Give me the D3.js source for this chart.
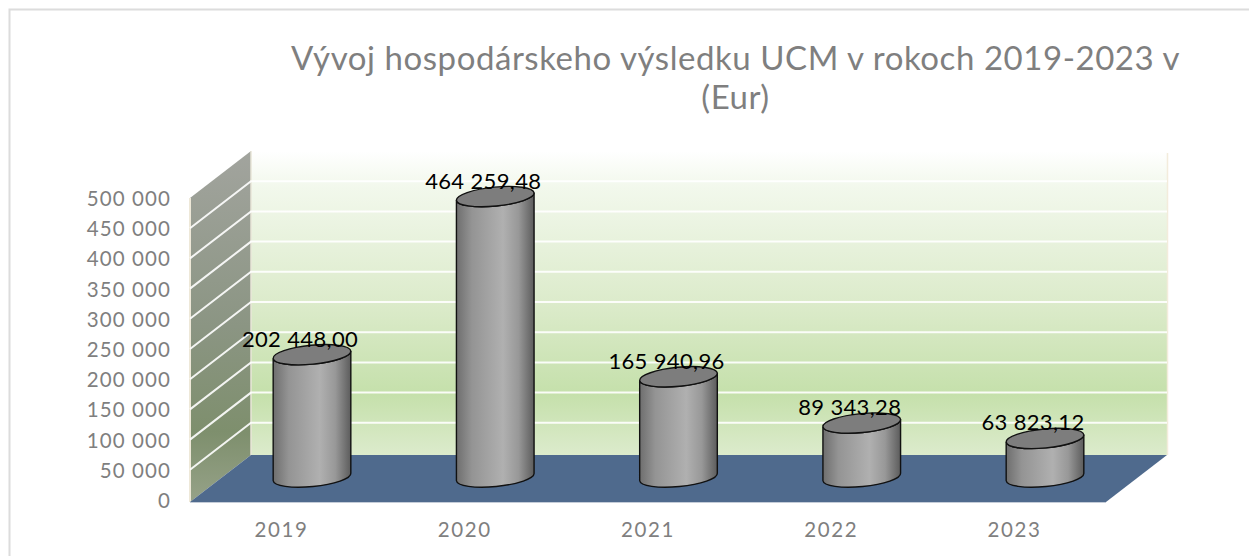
<!DOCTYPE html>
<html><head><meta charset="utf-8">
<script src="https://cdn.jsdelivr.net/npm/d3@7"></script>
<style>html,body{margin:0;padding:0;background:#fff}svg{display:block}text{font-family:Lato,"Open Sans",sans-serif}</style>
</head><body><div id="c"></div>
<script>
const categories=["2019","2020","2021","2022","2023"];
const values=[202448.00,464259.48,165940.96,89343.28,63823.12];
const labels=["202 448,00","464 259,48","165 940,96","89 343,28","63 823,12"];
const ticks=[0,50000,100000,150000,200000,250000,300000,350000,400000,450000,500000];
const titleLines=["Vývoj hospodárskeho výsledku UCM v rokoch 2019-2023 v","(Eur)"];

const W=1249,H=556;
const svg=d3.select("#c").append("svg").attr("width",W).attr("height",H);
const defs=svg.append("defs");
function grad(id,stops,x2,y2){
  const g=defs.append("linearGradient").attr("id",id).attr("x1",0).attr("y1",0).attr("x2",x2).attr("y2",y2);
  stops.forEach(s=>g.append("stop").attr("offset",s[0]).attr("stop-color",s[1]));
}
grad("wall",[[0,"#ffffff"],[0.12,"#f2f8ec"],[0.5,"#dcebcb"],[0.8,"#c5e0ab"],[1,"#dcebcc"]],0,1);
grad("side",[[0,"#a2a49e"],[0.5,"#8b9583"],[0.8,"#7e8f6d"],[1,"#96a288"]],0,1);
grad("cyl",[[0,"#6e6e6e"],[0.2,"#949494"],[0.6,"#b0b0b0"],[0.8,"#989898"],[1,"#5c5c5c"]],1,0);

// geometry
const y0=500, yTop=198, dx=61, dy=-47;
const x0=190, xEnd=1106;
const y=d3.scaleLinear().domain([0,500000]).range([y0,yTop]);
const x=d3.scalePoint().domain(categories).range([281,1014]);

// frame
svg.append("rect").attr("x",9.5).attr("y",9.5).attr("width",1300).attr("height",600)
  .attr("fill","#fff").attr("stroke","#dcdcdc").attr("stroke-width",2);

// title
svg.append("g").selectAll("text").data(titleLines).join("text")
  .attr("x",735.5).attr("y",(d,i)=>70+i*39).attr("text-anchor","middle")
  .attr("font-size",33).attr("letter-spacing",0.55).attr("fill","#7f7f7f").text(d=>d);

// walls
const baseY=y(0)+2;
const line=d3.line();
svg.append("rect").attr("x",x0+dx).attr("y",yTop+dy).attr("width",xEnd-x0).attr("height",baseY+dy-(yTop+dy))
  .attr("fill","url(#wall)");
svg.append("line").attr("x1",xEnd+dx+.5).attr("x2",xEnd+dx+.5).attr("y1",yTop+dy+2).attr("y2",baseY+dy)
  .attr("stroke","#f3ecdc").attr("stroke-width",1.5);
svg.append("path").attr("d",line([[x0,yTop],[x0+dx,yTop+dy],[x0+dx,baseY+dy],[x0,baseY]])+"Z")
  .attr("fill","url(#side)");
svg.append("line").attr("x1",x0).attr("x2",x0).attr("y1",yTop).attr("y2",baseY)
  .attr("stroke","#eee8d8").attr("stroke-width",2);
svg.append("line").attr("x1",x0+dx).attr("x2",x0+dx).attr("y1",yTop+dy).attr("y2",baseY+dy)
  .attr("stroke","#e8e6d8").attr("stroke-width",1.5);

// gridlines
const g=svg.append("g");
ticks.slice(1,-1).forEach(t=>{
  g.append("path").attr("d",line([[x0,y(t)],[x0+dx,y(t)+dy],[xEnd+dx,y(t)+dy]]))
   .attr("fill","none").attr("stroke","#fff").attr("stroke-width",2).attr("opacity",.9);
});

// floor
svg.append("path").attr("d",line([[x0,baseY],[x0+dx,baseY+dy],[xEnd+dx,baseY+dy],[xEnd,baseY]])+"Z")
  .attr("fill","#4f6a8d");
svg.append("line").attr("x1",x0).attr("x2",xEnd).attr("y1",baseY+.5).attr("y2",baseY+.5).attr("stroke","#c4ccd8").attr("stroke-width",1);

// axes
const axL=svg.append("g").attr("transform",`translate(171,1)`)
  .call(d3.axisLeft(y).tickValues(ticks).tickSize(0).tickPadding(0)
  .tickFormat(d=>d3.format(",")(d).replace(/,/g," ")));
axL.select(".domain").remove();
axL.selectAll("text").attr("font-size",20.5).attr("fill","#7f7f7f").attr("letter-spacing",1.1).style("font-family","Lato");
const axB=svg.append("g").attr("transform",`translate(0,${baseY+20})`)
  .call(d3.axisBottom(x).tickSize(0).tickPadding(0));
axB.select(".domain").remove();
axB.selectAll("text").attr("font-size",20.5).attr("fill","#7f7f7f").attr("letter-spacing",1.6).style("font-family","Lato");

// cylinders
const rx=39,ry=9.5,rot=-5.5,cxOff=31,baseC=-23;
const rad=rot*Math.PI/180;
const ex=rx*Math.cos(rad), ey=rx*Math.sin(rad);
const data=categories.map((c,i)=>({c,v:values[i],l:labels[i]}));
const bars=svg.append("g").selectAll("g").data(data).join("g");
bars.append("path").attr("d",d=>{
  const cx=x(d.c)+cxOff, b=y0+baseC, t=y(d.v)+baseC;
  return `M${cx-ex},${t-ey}L${cx-ex},${b-ey}A${rx},${ry} ${rot} 0 0 ${cx+ex},${b+ey}L${cx+ex},${t+ey}A${rx},${ry} ${rot} 0 1 ${cx-ex},${t-ey}Z`;
}).attr("fill","url(#cyl)").attr("stroke","#111").attr("stroke-width",1.4);
bars.append("ellipse").attr("rx",rx).attr("ry",ry)
  .attr("transform",d=>`translate(${x(d.c)+cxOff},${y(d.v)+baseC}) rotate(${rot})`)
  .attr("fill","#7d7d7d").attr("stroke","#111").attr("stroke-width",1.4);
bars.append("text").attr("x",d=>x(d.c)+19).attr("y",d=>y(d.v)+baseC-8)
  .attr("text-anchor","middle").attr("font-size",22).attr("fill","#000").attr("letter-spacing",0.35).text(d=>d.l);
</script></body></html>
